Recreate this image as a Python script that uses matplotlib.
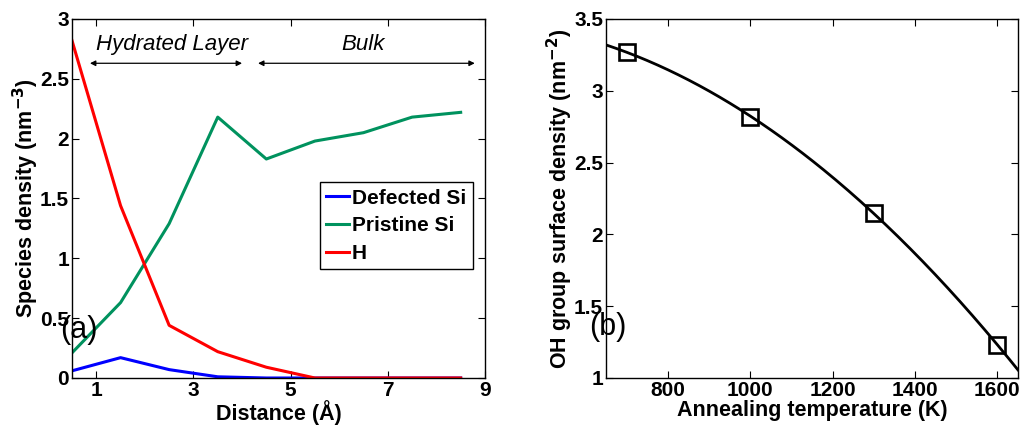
import numpy as np
import matplotlib
matplotlib.use("Agg")
import matplotlib.pyplot as plt

plt.rcParams['font.family'] = ['Liberation Sans', 'DejaVu Sans']
plt.rcParams['font.weight'] = 'bold'
plt.rcParams['axes.labelweight'] = 'bold'

# --- Panel (a): species density profiles ---
distance = [0.5, 1.5, 2.5, 3.5, 4.5, 5.5, 6.5, 7.5, 8.5]
defected_si = [0.06, 0.17, 0.07, 0.01, 0.0, 0.0, 0.0, 0.0, 0.0]
pristine_si = [0.21, 0.63, 1.29, 2.18, 1.83, 1.98, 2.05, 2.18, 2.22]
hydrogen = [2.82, 1.44, 0.44, 0.22, 0.09, 0.0, 0.0, 0.0, 0.0]

# --- Panel (b): OH surface density vs annealing temperature ---
anneal_T = [700, 1000, 1300, 1600]
oh_density = [3.27, 2.82, 2.15, 1.23]

fig = plt.figure(figsize=(10.24, 4.25), dpi=100)
ax1 = fig.add_axes([0.0703, 0.1106, 0.4033, 0.8447])
ax2 = fig.add_axes([0.5918, 0.1106, 0.4023, 0.8447])

lw = 2.2
ax1.plot(distance, defected_si, color="#0000ff", lw=lw, label="Defected Si")
ax1.plot(distance, pristine_si, color="#00925e", lw=lw, label="Pristine Si")
ax1.plot(distance, hydrogen, color="#ff0000", lw=lw, label="H")
ax1.set_xlim(0.5, 9)
ax1.set_ylim(0, 3)
ax1.set_xticks([1, 3, 5, 7, 9])
ax1.set_yticks([0, 0.5, 1, 1.5, 2, 2.5, 3])
ax1.set_yticklabels(["0", "0.5", "1", "1.5", "2", "2.5", "3"])
ax1.set_xlabel("Distance (Å)", fontsize=15.5, labelpad=0)
ax1.set_ylabel("Species density (nm$^{\\mathbf{-3}}$)", fontsize=15.5, labelpad=-1)

leg = ax1.legend(loc="upper left", bbox_to_anchor=(0.6, 0.545), fontsize=15,
                 handlelength=1.1, handletextpad=0.15, borderpad=0.3,
                 labelspacing=0.42, borderaxespad=0, fancybox=False, framealpha=1)
leg.get_frame().set_edgecolor("black")
leg.get_frame().set_linewidth(1.0)

# region arrows
arrow_kw = dict(arrowstyle="<|-|>", color="black", lw=0.9, mutation_scale=8,
                shrinkA=0, shrinkB=0)
ax1.annotate("", xy=(0.87, 2.63), xytext=(4.0, 2.63), arrowprops=arrow_kw)
ax1.annotate("", xy=(4.33, 2.63), xytext=(8.79, 2.63), arrowprops=arrow_kw)
ax1.text(2.56, 2.79, "Hydrated Layer", style="italic", weight="normal",
         fontsize=16, ha="center", va="center")
ax1.text(6.49, 2.79, "Bulk", style="italic", weight="normal",
         fontsize=16, ha="center", va="center")
ax1.text(-0.028, 0.135, "(a)", transform=ax1.transAxes, fontsize=22,
         weight="normal", ha="left", va="center")

# quadratic fit through the measured points
coef = np.polyfit(anneal_T, oh_density, 2)
T_fit = np.linspace(650, 1650, 200)
ax2.plot(T_fit, np.polyval(coef, T_fit), color="black", lw=2.0)
ax2.plot(anneal_T, oh_density, linestyle="none", marker="s", ms=11.5,
         mfc="none", mec="black", mew=1.9)
ax2.set_xlim(650, 1650)
ax2.set_ylim(1, 3.5)
ax2.set_xticks([800, 1000, 1200, 1400, 1600])
ax2.set_yticks([1, 1.5, 2, 2.5, 3, 3.5])
ax2.set_yticklabels(["1", "1.5", "2", "2.5", "3", "3.5"])
ax2.set_xlabel("Annealing temperature (K)", fontsize=15.5, labelpad=0)
ax2.set_ylabel("OH group surface density (nm$^{\\mathbf{-2}}$)", fontsize=15.5, labelpad=-1)
ax2.text(-0.042, 0.142, "(b)", transform=ax2.transAxes, fontsize=22,
         weight="normal", ha="left", va="center")

for ax in (ax1, ax2):
    ax.tick_params(direction="in", top=True, right=True, length=5, width=0.8,
                   labelsize=15, pad=2)
    for s in ax.spines.values():
        s.set_linewidth(1.0)

fig.savefig("out.png", dpi=100)
